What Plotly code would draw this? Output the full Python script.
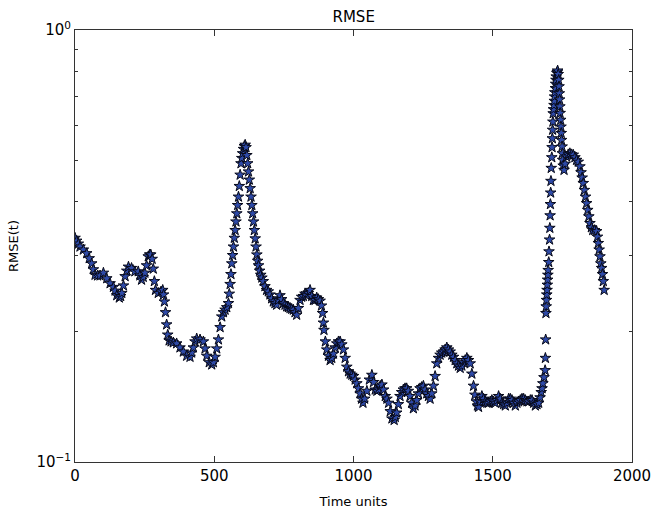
import plotly.graph_objects as go

# Time units (x) and RMSE(t) values (y)
time_units = [
    0, 6, 12, 18, 30, 42, 51, 60, 66, 72, 81, 90, 102, 114, 126, 138, 144, 150, 159, 164,
    168, 174, 180, 186, 192, 203, 215, 227, 233, 239, 245, 251, 257, 263, 268, 272, 277, 281, 285, 289,
    299, 309, 315, 318, 321, 325, 329, 333, 338, 345, 353, 365, 377, 389, 401, 413, 419, 425, 431, 437,
    449, 461, 467, 473, 482, 491, 497, 503, 509, 515, 521, 527, 533, 539, 545,
    551, 554, 557, 560, 563, 566, 569, 572, 575, 578, 581, 584, 587, 590, 593, 596, 599, 602, 605, 608,
    611, 614, 617, 620, 623, 626, 629, 632, 635, 638, 641, 644, 647, 650, 653, 656, 659, 663, 667, 671,
    676, 682, 688, 694, 700, 706, 712, 718, 724, 730, 736, 742, 748, 754, 760, 766, 772, 778, 784, 790,
    796, 802, 808, 814, 820, 826, 832, 838, 844, 850, 856, 862, 868, 874, 880, 885, 889, 892, 894, 899,
    904, 910, 916, 922, 928, 934, 940, 946, 952, 958, 964, 970, 976, 982, 988, 994, 1000, 1006, 1012, 1018,
    1024, 1029, 1034, 1040, 1048, 1057, 1066, 1072, 1078, 1084, 1090, 1096, 1102, 1108, 1114, 1120, 1126, 1132, 1138, 1146,
    1150, 1155, 1161, 1167, 1173, 1179, 1185, 1191, 1197, 1203, 1209, 1215, 1221, 1227, 1233, 1239, 1245, 1251, 1257, 1263,
    1269, 1275, 1281, 1287, 1293, 1299, 1305, 1311, 1317, 1323, 1329, 1335, 1341, 1347, 1353, 1359, 1365, 1371, 1377, 1383,
    1389, 1395, 1401, 1407, 1413, 1419, 1425, 1431, 1436, 1441, 1445, 1449, 1455, 1461, 1467, 1473, 1479, 1485, 1491, 1497,
    1503, 1509, 1515, 1521, 1527, 1533, 1539, 1545, 1551, 1557, 1563, 1569, 1575, 1581, 1587, 1593, 1599, 1605, 1611, 1617,
    1623, 1629, 1635, 1641, 1647, 1653, 1659, 1665, 1670, 1674, 1677, 1680, 1684, 1688, 1689, 1690, 1691, 1692, 1693, 1694,
    1695, 1696, 1697, 1698, 1699, 1701, 1702, 1704, 1705, 1706, 1707, 1708, 1709, 1710, 1712, 1713, 1714, 1715, 1716, 1717,
    1718, 1720, 1721, 1722, 1723, 1725, 1726, 1727, 1728, 1730, 1732, 1733, 1735, 1737, 1738, 1739, 1740, 1741, 1742, 1744,
    1745, 1746, 1747, 1749, 1750, 1751, 1753, 1756, 1760, 1765, 1771, 1777, 1783, 1789, 1795, 1801, 1807, 1813, 1817, 1821,
    1825, 1829, 1833, 1837, 1841, 1845, 1849, 1854, 1859, 1866, 1873, 1876, 1879, 1882, 1885, 1888, 1891, 1894, 1897, 1900,
]

rmse_values = [
    0.330, 0.325, 0.320, 0.315, 0.310, 0.304, 0.296, 0.288, 0.279, 0.271, 0.270, 0.270, 0.274, 0.266, 0.259, 0.254, 0.249, 0.243, 0.240, 0.242,
    0.246, 0.256, 0.269, 0.277, 0.283, 0.281, 0.276, 0.276, 0.270, 0.264, 0.268, 0.274, 0.285, 0.299, 0.302, 0.302, 0.295, 0.280, 0.262, 0.250,
    0.246, 0.248, 0.250, 0.244, 0.235, 0.222, 0.208, 0.197, 0.191, 0.190, 0.189, 0.188, 0.184, 0.180, 0.176, 0.175, 0.179, 0.184, 0.190, 0.193,
    0.192, 0.190, 0.183, 0.176, 0.170, 0.168, 0.170, 0.175, 0.183, 0.192, 0.205, 0.217, 0.222, 0.225, 0.228,
    0.233, 0.245, 0.258, 0.272, 0.288, 0.301, 0.315, 0.330, 0.344, 0.360, 0.376, 0.393, 0.411, 0.435, 0.462, 0.491, 0.505, 0.518, 0.530, 0.538,
    0.542, 0.535, 0.513, 0.491, 0.470, 0.450, 0.430, 0.411, 0.393, 0.376, 0.360, 0.344, 0.329, 0.315, 0.302, 0.292, 0.285, 0.277, 0.271, 0.267,
    0.262, 0.255, 0.250, 0.248, 0.244, 0.239, 0.235, 0.233, 0.231, 0.237, 0.243, 0.238, 0.233, 0.231, 0.229, 0.228, 0.227, 0.226, 0.225, 0.222,
    0.219, 0.227, 0.237, 0.241, 0.242, 0.245, 0.243, 0.246, 0.250, 0.242, 0.237, 0.237, 0.240, 0.238, 0.236, 0.230, 0.221, 0.210, 0.202, 0.190,
    0.182, 0.176, 0.172, 0.174, 0.178, 0.184, 0.188, 0.190, 0.190, 0.187, 0.182, 0.174, 0.166, 0.162, 0.160, 0.159, 0.158, 0.155, 0.152, 0.148,
    0.144, 0.140, 0.137, 0.140, 0.146, 0.155, 0.159, 0.153, 0.147, 0.146, 0.147, 0.150, 0.151, 0.147, 0.142, 0.140, 0.137, 0.131, 0.126, 0.125,
    0.127, 0.130, 0.136, 0.142, 0.145, 0.147, 0.148, 0.148, 0.146, 0.142, 0.137, 0.133, 0.135, 0.139, 0.144, 0.148, 0.149, 0.150, 0.147, 0.144,
    0.142, 0.140, 0.144, 0.150, 0.158, 0.169, 0.174, 0.177, 0.179, 0.180, 0.182, 0.184, 0.182, 0.180, 0.177, 0.175, 0.172, 0.169, 0.167, 0.165,
    0.167, 0.170, 0.172, 0.174, 0.172, 0.169, 0.160, 0.150, 0.143, 0.138, 0.135, 0.134, 0.138, 0.142, 0.140, 0.138, 0.137, 0.137, 0.138, 0.139,
    0.138, 0.137, 0.139, 0.142, 0.140, 0.137, 0.136, 0.135, 0.137, 0.140, 0.140, 0.139, 0.137, 0.135, 0.137, 0.138, 0.139, 0.140, 0.140, 0.139,
    0.138, 0.138, 0.139, 0.139, 0.137, 0.135, 0.136, 0.137, 0.141, 0.145, 0.148, 0.152, 0.157, 0.163, 0.174, 0.192, 0.221, 0.229, 0.237, 0.244,
    0.250, 0.257, 0.264, 0.271, 0.278, 0.290, 0.307, 0.327, 0.348, 0.372, 0.395, 0.420, 0.447, 0.479, 0.507, 0.535, 0.561, 0.587, 0.613, 0.641,
    0.655, 0.670, 0.685, 0.701, 0.717, 0.733, 0.750, 0.766, 0.780, 0.795, 0.800, 0.805, 0.790, 0.766, 0.740, 0.713, 0.690, 0.665, 0.642, 0.619,
    0.597, 0.577, 0.556, 0.537, 0.518, 0.500, 0.485, 0.474, 0.490, 0.509, 0.515, 0.518, 0.515, 0.514, 0.507, 0.500, 0.495, 0.483, 0.468, 0.455,
    0.442, 0.426, 0.411, 0.397, 0.383, 0.370, 0.357, 0.349, 0.344, 0.344, 0.342, 0.332, 0.321, 0.310, 0.299, 0.288, 0.281, 0.272, 0.262, 0.250,
]

x_ticks = [0, 500, 1000, 1500, 2000]
x_tick_labels = ["0", "500", "1000", "1500", "2000"]
y_ticks = [0.1, 1.0]
y_tick_labels = ["10<sup>\u22121</sup>", "10<sup>0</sup>"]
y_minor_ticks = [0.2, 0.3, 0.4, 0.5, 0.6, 0.7, 0.8, 0.9]

FONT = "DejaVu Sans, Liberation Sans, sans-serif"

fig = go.Figure()
fig.add_trace(go.Scatter(
    x=time_units, y=rmse_values, mode="markers",
    marker=dict(symbol="star", size=8, color="#2e4aa8",
                line=dict(color="#070918", width=1)),
    showlegend=False, hoverinfo="x+y",
))

fig.update_layout(
    width=655, height=511,
    margin=dict(l=75, r=23, t=30, b=49, autoexpand=False),
    paper_bgcolor="white", plot_bgcolor="white",
    font=dict(family=FONT, color="black"),
    title=dict(text="RMSE", x=0.54, xref="container", xanchor="center",
               y=1 - 17 / 511, yref="container", yanchor="middle",
               font=dict(size=15, family=FONT, color="black")),
)
fig.update_xaxes(
    range=[0, 2000], tickvals=x_ticks, ticktext=x_tick_labels,
    ticks="inside", ticklen=6, tickwidth=1, tickcolor="#333",
    showline=True, linecolor="#333", linewidth=1, mirror="allticks",
    showgrid=False, zeroline=False, automargin=False,
    tickfont=dict(size=15, family=FONT, color="black"),
    title=dict(text="Time units", font=dict(size=13, family=FONT, color="black"), standoff=12),
)
fig.update_yaxes(
    type="log", range=[-1, 0], tickvals=y_ticks, ticktext=y_tick_labels,
    ticks="inside", ticklen=6, tickwidth=1, tickcolor="#333",
    showline=True, linecolor="#333", linewidth=1, mirror="allticks",
    showgrid=False, zeroline=False, automargin=False,
    tickfont=dict(size=15, family=FONT, color="black"),
    minor=dict(tickvals=y_minor_ticks, ticks="inside", ticklen=3, tickwidth=1,
               tickcolor="#333", showgrid=False),
    title=dict(text="RMSE(t)", font=dict(size=13, family=FONT, color="black"), standoff=14),
)

fig.write_html("out.html", config={"displayModeBar": False},
               post_script="document.body.style.margin='0px';")
